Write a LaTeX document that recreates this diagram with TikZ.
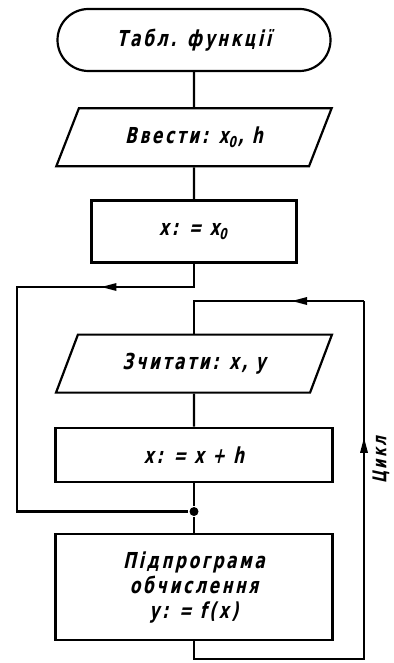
\documentclass[tikz,border=0pt]{standalone}
\usepackage{fontspec}
\usepackage{tikz}
\usetikzlibrary{positioning,arrows.meta,shapes.geometric,decorations.markings}
\newfontfamily\gostfont{DejaVu Sans}[FakeSlant=0.22,FakeStretch=0.7,LetterSpace=12]
\newcommand\lowsub[1]{\raisebox{-0.35ex}{\fontsize{15}{15}\selectfont #1}\kern2pt}

\begin{document}
\begin{tikzpicture}[
  x=1pt,y=-1pt,
  font=\gostfont\bfseries\fontsize{22}{25}\selectfont,
  line width=2.2pt,
  term/.style={rectangle,draw,rounded corners=31pt,minimum width=273pt,minimum height=62pt},
  io/.style={trapezium,draw,trapezium left angle=63,trapezium right angle=117,
    trapezium stretches=true,minimum width=276pt,minimum height=58pt},
  proc/.style={rectangle,draw,minimum width=277pt,minimum height=54pt,align=center},
  jdot/.style={circle,fill,inner sep=0,minimum size=9pt},
  midarr/.style={postaction={decorate},decoration={markings,
    mark=at position #1 with {\fill (4pt,0pt) -- (-11pt,4pt) -- (-11pt,-4pt) -- cycle;}}},
]
\useasboundingbox (0,0) rectangle (393,663);
% --- main column ---
\node[term] (start) at (194,40) {Табл. функції};
\node[io,below=35pt of start] (input) {Ввести: x\lowsub{0}, h};
\node[proc,below=32pt of input,minimum width=205pt,minimum height=62pt] (init) {x: = x\lowsub{0}};
\node[io,below=70pt of init] (read) {Зчитати: x, y};
\node[proc,below=33pt of read] (step) {x: = x + h};
\node[jdot,below=23pt of step] (join) {};
\node[proc,below=50pt of step,minimum height=106pt,inner sep=2pt] (sub)
  {Підпрограма\\обчислення\\y: = f(x)};
\draw (start) -- (input);
\draw (input) -- (init);
\draw (read) -- (step);
\draw (step) -- (join) -- (sub);
% --- outer loop (left) ---
\coordinate (oltop) at (17,287);
\coordinate (olbot) at (oltop |- join);
\draw[midarr=112pt] (init.south) -- (init.south |- oltop) -- (oltop) -- (olbot) -- (join);
% --- inner loop (right) ---
\coordinate (ilbot) at (364,659);
\coordinate (iltop) at (364,301);
\draw[midarr=405pt] (sub.south) -- (sub.south |- ilbot) -- (ilbot) -- (iltop);
\draw[midarr=68pt] (iltop) -- (iltop -| read.north) -- (read.north);
\node[rotate=90,font=\gostfont\bfseries\fontsize{19}{21}\selectfont] (cyc) at (381,460) {Цикл};
\end{tikzpicture}
\end{document}
